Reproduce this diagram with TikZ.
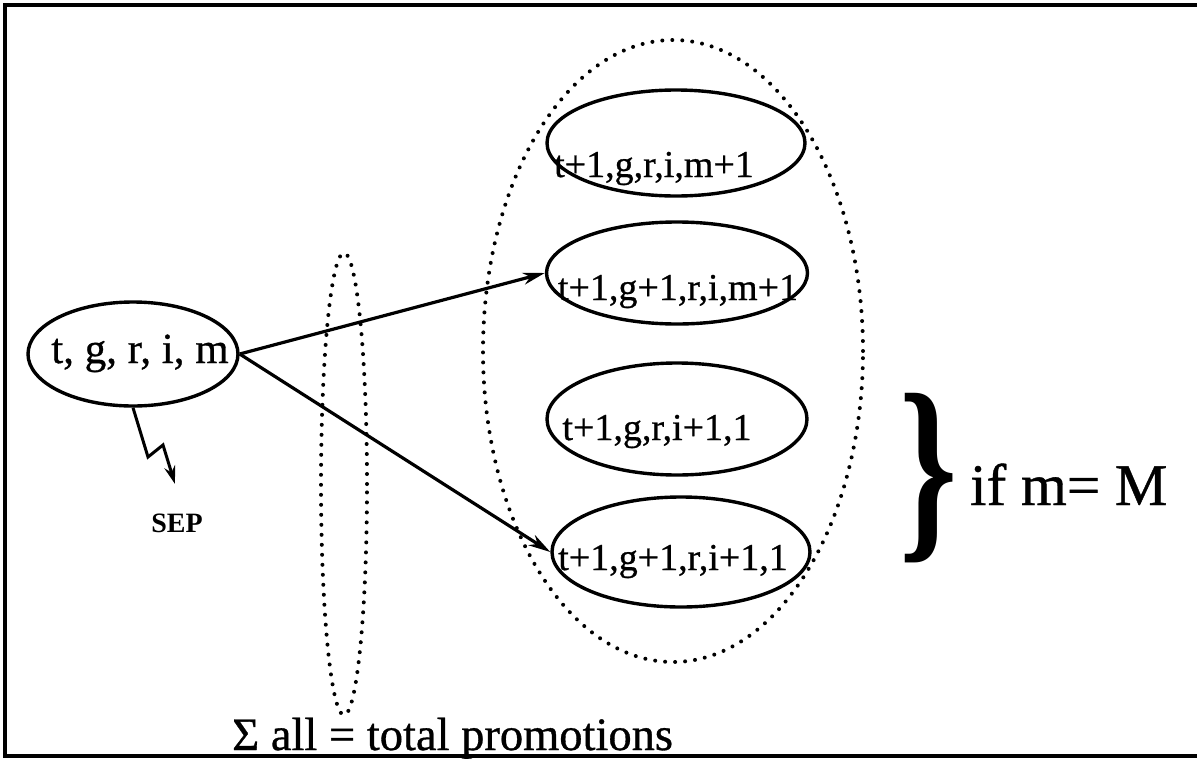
\documentclass[tikz,border=0pt]{standalone}
\usepackage{fontspec}
\setmainfont{Liberation Serif}
\newfontfamily\heavy{Liberation Serif}[FakeBold=0.7]
\usetikzlibrary{shapes.geometric,arrows.meta}
\begin{document}
\begin{tikzpicture}[x=1pt,y=-1pt,
  solidell/.style={draw,ellipse,line width=3.4pt,inner sep=0pt},
  dotell/.style={draw,ellipse,line width=4pt,line cap=round,dash pattern=on 0pt off 10pt,inner sep=0pt},
  lbl/.style={inner sep=0pt,font=\heavy\fontsize{38}{40}\selectfont},
  arr/.style={line width=3.2pt,-{Stealth[length=22pt,width=12pt,inset=7pt]}}
]
\useasboundingbox (0,0) rectangle (1197,758);
% frame (three sides)
\draw[line width=4pt] (1197,5) -- (5,5) -- (5,756) -- (1197,756);

% dotted groupings
\node[dotell,minimum width=380pt,minimum height=622pt] (big) at (673,351) {};
\node[dotell,minimum width=46pt,minimum height=462pt] (small) at (344,484) {};

% source node
\node[solidell,minimum width=210pt,minimum height=104pt] (main) at (133,354) {};
\node[inner sep=0pt,anchor=base,font=\heavy\fontsize{43}{46}\selectfont] (mainl) at (140,363) {t, g, r, i, m};

% target nodes
\node[solidell,minimum width=258pt,minimum height=106pt] (e1) at (676,143) {};
\node[solidell,minimum width=261pt,minimum height=102pt] (e2) at (677,273) {};
\node[solidell,minimum width=260pt,minimum height=112pt] (e3) at (677,419) {};
\node[solidell,minimum width=258pt,minimum height=110pt] (e4) at (681,552) {};
\node[lbl,anchor=base] (l1) at (654,177) {t+1,g,r,i,m+1};
\node[lbl,anchor=base] (l2) at (678,300) {t+1,g+1,r,i,m+1};
\node[lbl,anchor=base] (l3) at (657,440) {t+1,g,r,i+1,1};
\node[lbl,anchor=base] (l4) at (673,570) {t+1,g+1,r,i+1,1};

% arrows
\draw[arr] (main.east) -- (e2.west);
\draw[arr] (main.east) -- (e4.west);

% lightning to SEP
\node[inner sep=0pt,font=\bfseries\fontsize{28}{30}\selectfont] (sep) at (177,523) {SEP};
\coordinate (z1) at (148,457);
\coordinate (z2) at (163,445);
\coordinate (zend) at (175,484);
\draw[line width=3pt,-{Stealth[length=18pt,width=11pt,inset=6pt]}] (main.south) -- (z1) -- (z2) -- (zend);

% brace and condition
\node[inner sep=0pt] (brace) at (929,478) {\scalebox{0.72}[1]{\bfseries\fontsize{205}{205}\selectfont\}}};
\node[inner sep=0pt,anchor=base west,font=\heavy\fontsize{59}{62}\selectfont] (cond) at (970,505) {if m= M};

% bottom caption
\node[inner sep=0pt,anchor=base west,font=\heavy\fontsize{46.5}{48}\selectfont] (sum) at (232,750) {Σ all = total promotions};
\end{tikzpicture}
\end{document}
